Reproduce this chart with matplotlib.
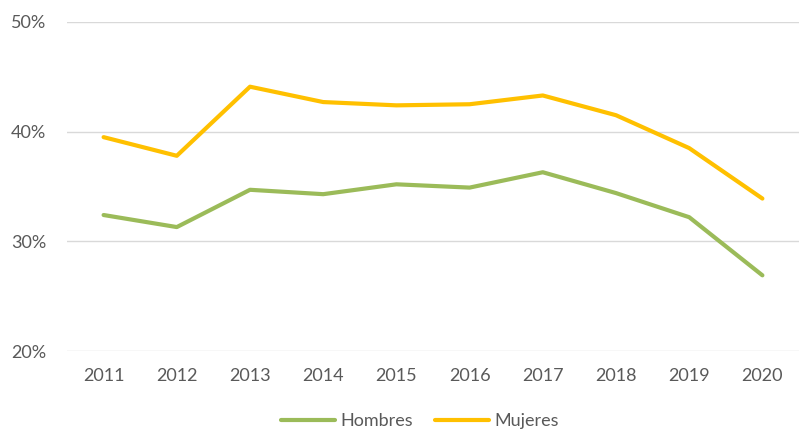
import matplotlib.pyplot as plt
from matplotlib.ticker import FuncFormatter

years = ['2011', '2012', '2013', '2014', '2015', '2016', '2017', '2018', '2019', '2020']
hombres = [32.4, 31.3, 34.7, 34.3, 35.2, 34.9, 36.3, 34.4, 32.2, 26.9]
mujeres = [39.5, 37.8, 44.1, 42.7, 42.4, 42.5, 43.3, 41.5, 38.5, 33.9]

plt.rcParams['font.family'] = ['Lato', 'DejaVu Sans']
grey = '#595959'

fig = plt.figure(figsize=(7.99, 4.30), dpi=100)
ax = fig.add_axes([67 / 799, 1 - 351 / 430, 1 - 67 / 799, (351 - 22) / 430])

x = list(range(len(years)))
ax.plot(x, hombres, color='#9BBB59', linewidth=3, label='Hombres', solid_capstyle='round')
ax.plot(x, mujeres, color='#FFC000', linewidth=3, label='Mujeres', solid_capstyle='round')

ax.set_xlim(-0.5, len(years) - 0.5)
ax.set_ylim(20, 50)
ax.set_yticks([20, 30, 40, 50])
ax.yaxis.set_major_formatter(FuncFormatter(lambda v, p: f'{v:.0f}%'))
ax.set_xticks(x)
ax.set_xticklabels(years)

ax.grid(axis='y', color='#D9D9D9', linewidth=1)
ax.set_axisbelow(True)
for s in ax.spines.values():
    s.set_visible(False)
ax.tick_params(axis='both', length=0, colors=grey, labelsize=13)
ax.tick_params(axis='x', pad=12)
ax.tick_params(axis='y', pad=15)

leg = fig.legend(loc='center', bbox_to_anchor=(420 / 799, 1 - 421 / 430), ncol=2,
                 frameon=False, fontsize=13, handlelength=3, columnspacing=1.2,
                 handletextpad=0.3, labelcolor=grey)

fig.savefig('out.png', dpi=100)
